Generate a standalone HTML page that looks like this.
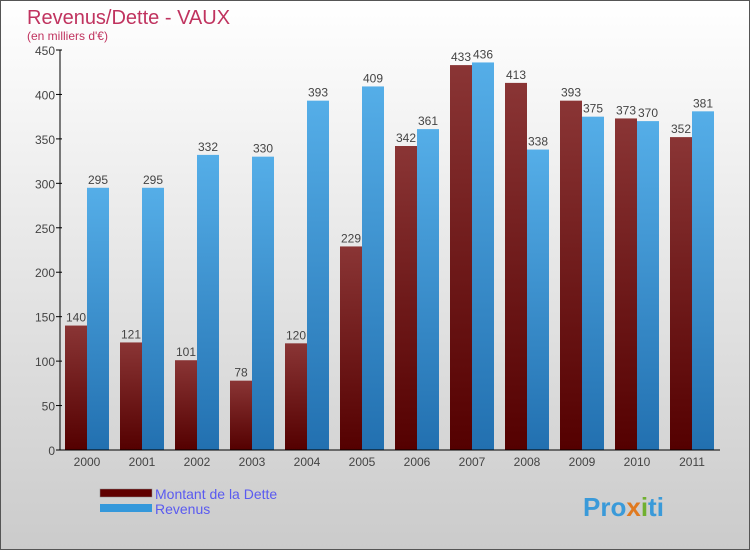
<!DOCTYPE html>
<html><head><meta charset="utf-8"><style>
body{margin:0;width:750px;height:550px;overflow:hidden;font-family:"Liberation Sans",sans-serif}
</style></head><body>
<svg width="750" height="550">
<defs>
<linearGradient id="bg" x1="0" y1="0" x2="0" y2="1"><stop offset="0" stop-color="#ffffff"/><stop offset="1" stop-color="#cbcbcb"/></linearGradient>
<linearGradient id="gd" x1="0" y1="0" x2="0" y2="1"><stop offset="0" stop-color="#8a3535"/><stop offset="1" stop-color="#540000"/></linearGradient>
<linearGradient id="gr" x1="0" y1="0" x2="0" y2="1"><stop offset="0" stop-color="#55aee8"/><stop offset="1" stop-color="#2270b0"/></linearGradient>
</defs>
<rect x="0.5" y="0.5" width="749" height="549" fill="url(#bg)" stroke="#555"/>
<text x="27" y="24" font-size="20" fill="#c0335f">Revenus/Dette - VAUX</text>
<text x="27" y="40" font-size="12" fill="#c0335f">(en milliers d'€)</text>
<g id="plot"></g>
<g>
<rect x="100" y="489" width="52" height="8" fill="#600000" stroke="#888" stroke-width="0.5"/>
<text x="155" y="499" font-size="14" fill="#5a5af0">Montant de la Dette</text>
<rect x="100" y="504" width="52" height="8" fill="#3498db"/>
<text x="155" y="514" font-size="14" fill="#5a5af0">Revenus</text>
</g>
<text x="583" y="516" font-size="26" font-weight="bold" fill="#3a9ad9">Pro<tspan fill="#e07a20">x</tspan><tspan fill="#70b030">i</tspan>ti</text>
</svg>
<script>
const categories=["2000","2001","2002","2003","2004","2005","2006","2007","2008","2009","2010","2011"];
const dette=[140,121,101,78,120,229,342,433,413,393,373,352];
const revenus=[295,295,332,330,393,409,361,436,338,375,370,381];
const yTicks=[0,50,100,150,200,250,300,350,400,450];
const NS="http://www.w3.org/2000/svg";
const g=document.getElementById('plot');
const y=v=>450-v*400/450;
const x=i=>87+i*55;
function mk(t,a){const e=document.createElementNS(NS,t);for(const k in a)e.setAttribute(k,a[k]);g.appendChild(e);return e;}
yTicks.forEach(t=>{
 const l=mk('line',{x1:56,x2:62,y1:y(t),y2:y(t),stroke:'#000'});
 
 
 const tx=mk('text',{x:55,y:y(t)+5,'font-size':12,fill:'#444','text-anchor':'end'});tx.textContent=t;
 
 
});
categories.forEach((c,i)=>{
 const b1=mk('rect',{x:x(i)-22,y:y(dette[i]),width:22,height:450-y(dette[i]),fill:'url(#gd)'});
 
 
 const b2=mk('rect',{x:x(i),y:y(revenus[i]),width:22,height:450-y(revenus[i]),fill:'url(#gr)'});
 
 
 const t1=mk('text',{x:x(i)-11,y:y(dette[i])-4,'font-size':12,fill:'#444','text-anchor':'middle'});t1.textContent=dette[i];
 
 
 const t2=mk('text',{x:x(i)+11,y:y(revenus[i])-4,'font-size':12,fill:'#444','text-anchor':'middle'});t2.textContent=revenus[i];
 
 
 const xl=mk('text',{x:x(i),y:466,'font-size':12,fill:'#444','text-anchor':'middle'});xl.textContent=c;
 
 
});
const ax=mk('line',{x1:60,x2:60,y1:50,y2:450,stroke:'#000'});


const bx=mk('line',{x1:56,x2:720,y1:450,y2:450,stroke:'#000'});


</script>
</body></html>
